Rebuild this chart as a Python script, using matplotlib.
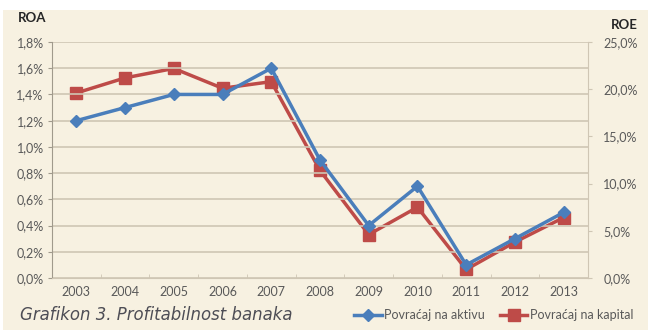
import matplotlib.pyplot as plt
import numpy as np
from matplotlib.patches import Rectangle

years = ["2003", "2004", "2005", "2006", "2007", "2008", "2009", "2010", "2011", "2012", "2013"]
roa = [1.2, 1.3, 1.4, 1.4, 1.6, 0.9, 0.4, 0.7, 0.1, 0.3, 0.5]
roe = [19.6, 21.2, 22.2, 20.1, 20.8, 11.4, 4.6, 7.5, 0.9, 3.8, 6.4]

bg = "#f7f1e1"
blue = "#4a7ebb"
red = "#be4b48"
txt = "#595959"
grid = "#cfc6b4"

plt.rcParams['font.family'] = ['Lato', 'DejaVu Sans']

fig = plt.figure(figsize=(6.48, 3.30), dpi=100)
fig.patch.set_facecolor("white")
fig.patches.append(Rectangle((0.005, 0), 0.995, 0.97, transform=fig.transFigure,
                             facecolor=bg, edgecolor="none", zorder=-10))

ax = fig.add_axes([0.0802, 0.1576, 0.8272, 0.7151])
x = np.arange(len(years))

ax.set_ylim(0, 1.8)
ax.set_yticks(np.arange(0, 1.81, 0.2))
ax.set_yticklabels([f"{v:.1f}%".replace(".", ",") for v in np.arange(0, 1.81, 0.2)])
ax.set_xlim(-0.5, len(years) - 0.5)
ax.set_xticks(x)
ax.set_xticklabels(years)
ax.set_xticks(np.arange(-0.5, len(years), 1), minor=True)
ax.tick_params(axis="x", which="major", length=0, pad=6, labelsize=9, labelcolor=txt)
ax.tick_params(axis="x", which="minor", length=3, color=grid, direction="in")
ax.tick_params(axis="y", length=3, color="#a09a8c", labelsize=9, labelcolor=txt, pad=3)
ax.grid(axis="y", color=grid, linewidth=1.2)
ax.set_axisbelow(True)
for s in ["top", "right"]:
    ax.spines[s].set_visible(False)
ax.spines["left"].set_color("#a09a8c")
ax.spines["bottom"].set_color(grid)

ax2 = ax.twinx()
ax2.set_ylim(0, 25)
ax2.set_yticks(np.arange(0, 25.1, 5))
ax2.set_yticklabels([f"{v:.1f}%".replace(".", ",") for v in np.arange(0, 25.1, 5)])
ax2.tick_params(axis="y", length=3, color=grid, labelsize=9, labelcolor=txt, pad=8)
for s in ["top", "left", "bottom"]:
    ax2.spines[s].set_visible(False)
ax2.spines["right"].set_color(grid)

l1, = ax.plot(x, roa, color=blue, lw=2.5, marker="D", markersize=6, label="Povraćaj na aktivu", zorder=3)
l2, = ax2.plot(x, roe, color=red, lw=2.5, marker="s", markersize=8, label="Povraćaj na kapital", zorder=3)
ax.set_zorder(ax2.get_zorder() + 1)
ax.patch.set_visible(False)
ax2.set_facecolor(bg)

fig.text(0.028, 0.945, "ROA", fontsize=9.5, fontweight="bold", color="#262626", va="center")
fig.text(0.942, 0.925, "ROE", fontsize=9.5, fontweight="bold", color="#262626", va="center")

fig.text(0.031, 0.045, "Grafikon 3. Profitabilnost banaka", fontsize=13.2, style="italic",
         fontstretch="condensed", color="#4d4d55", va="center",
         family=["DejaVu Sans", "Liberation Sans Narrow"])

fig.legend(handles=[l1, l2], loc="center right", bbox_to_anchor=(0.985, 0.045), ncol=2,
           frameon=False, fontsize=9, handlelength=2.2, handletextpad=0.2, columnspacing=1.2,
           labelcolor=txt, borderaxespad=0)

fig.savefig("out.png", dpi=100, facecolor=fig.get_facecolor())
